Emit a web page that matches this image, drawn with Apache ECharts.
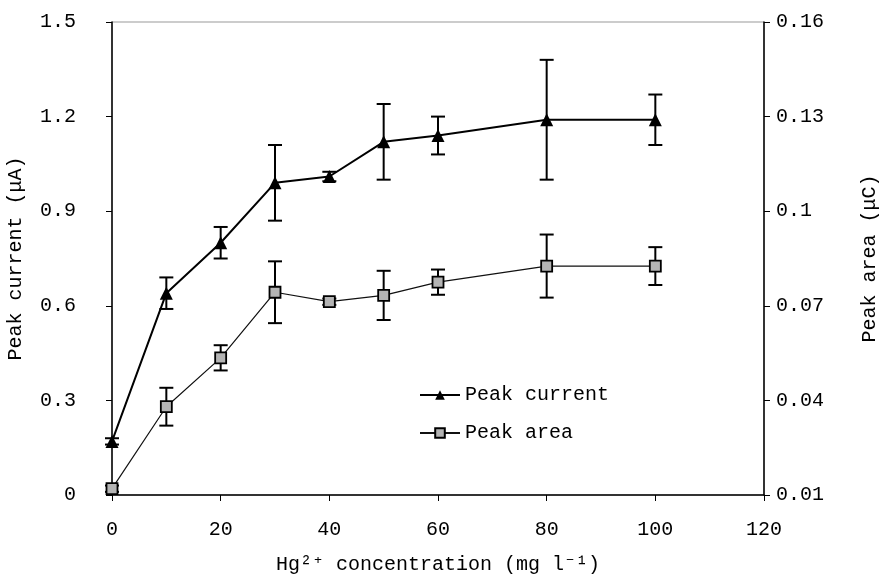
<!DOCTYPE html>
<html>
<head>
<meta charset="utf-8">
<script src="https://cdn.jsdelivr.net/npm/echarts@6/dist/echarts.min.js"></script>
<style>html,body{margin:0;padding:0;background:#fff}#c{width:881px;height:576px}</style>
</head>
<body>
<div id="c"></div>
<script>
const concentrations = [0, 10, 20, 30, 40, 50, 60, 80, 100];
const peakCurrent = [0.17, 0.64, 0.80, 0.99, 1.01, 1.12, 1.14, 1.19, 1.19];
const peakCurrentErr = [0.01, 0.05, 0.05, 0.12, 0.015, 0.12, 0.06, 0.19, 0.08];
const peakArea = [0.012, 0.038, 0.0535, 0.0743, 0.0713, 0.0733, 0.0775, 0.0826, 0.0826];
const peakAreaErr = [0.001, 0.006, 0.004, 0.0098, 0.001, 0.0078, 0.004, 0.010, 0.006];
const leftTicks = [0, 0.3, 0.6, 0.9, 1.2, 1.5];
const rightTicks = [0.01, 0.04, 0.07, 0.1, 0.13, 0.16];
const xTicks = [0, 20, 40, 60, 80, 100, 120];

const FONT = '"Liberation Mono", "Courier New", monospace';
const FS = 20;

const curPts = concentrations.map((x, i) => [x, peakCurrent[i]]);
const areaPts = concentrations.map((x, i) => [x, peakArea[i]]);
const curErr = concentrations.map((x, i) => [x, peakCurrent[i] - peakCurrentErr[i], peakCurrent[i] + peakCurrentErr[i]]);
const areaErr = concentrations.map((x, i) => [x, peakArea[i] - peakAreaErr[i], peakArea[i] + peakAreaErr[i]]);

function errRender(params, api) {
  const x = api.value(0), lo = api.value(1), hi = api.value(2);
  const a = api.coord([x, hi]);
  const b = api.coord([x, lo]);
  const w = 7;
  const st = { stroke: '#000', lineWidth: 2 };
  return {
    type: 'group',
    children: [
      { type: 'line', shape: { x1: a[0], y1: a[1], x2: b[0], y2: b[1] }, style: st },
      { type: 'line', shape: { x1: a[0] - w, y1: a[1], x2: a[0] + w, y2: a[1] }, style: st },
      { type: 'line', shape: { x1: b[0] - w, y1: b[1], x2: b[0] + w, y2: b[1] }, style: st }
    ]
  };
}

const chart = echarts.init(document.getElementById('c'), null, { renderer: 'canvas' });
const axisLabelStyle = { color: '#000', fontFamily: FONT, fontSize: FS };
chart.setOption({
  animation: false,
  backgroundColor: '#fff',
  textStyle: { fontFamily: FONT, color: '#000' },
  grid: {
    left: 112, right: 117, top: 22, bottom: 81,
    show: true, borderColor: '#999', borderWidth: 1,
    outerBoundsMode: 'none', containLabel: false
  },
  legend: {
    orient: 'vertical',
    left: 414, top: 380,
    itemWidth: 40, itemHeight: 12, itemGap: 18,
    data: ['Peak current', 'Peak area'],
    textStyle: { fontFamily: FONT, fontSize: FS, color: '#000' }
  },
  xAxis: {
    type: 'value', min: 0, max: 120, interval: 20,
    name: 'Hg²⁺ concentration (mg l⁻¹)',
    nameLocation: 'middle', nameGap: 60,
    nameTextStyle: { fontFamily: FONT, fontSize: FS, color: '#000' },
    axisLine: { show: true, lineStyle: { color: '#000', width: 1.5 } },
    axisTick: { show: true, inside: false, length: 6, lineStyle: { color: '#000' } },
    axisLabel: Object.assign({ margin: 25 }, axisLabelStyle),
    splitLine: { show: false }
  },
  yAxis: [
    {
      type: 'value', min: 0, max: 1.5, interval: 0.3, position: 'left',
      name: 'Peak current (μA)', nameLocation: 'middle', nameGap: 86, nameRotate: 90,
      nameTextStyle: { fontFamily: FONT, fontSize: FS, color: '#000' },
      axisLine: { show: true, lineStyle: { color: '#000', width: 1.5 } },
      axisTick: { show: true, length: 6, lineStyle: { color: '#000' } },
      axisLabel: Object.assign({ margin: 36, formatter: v => String(+v.toFixed(2)) }, axisLabelStyle),
      splitLine: { show: false }
    },
    {
      type: 'value', min: 0.01, max: 0.16, position: 'right',
      name: 'Peak area (μC)', nameLocation: 'middle', nameGap: 96, nameRotate: 90,
      nameTextStyle: { fontFamily: FONT, fontSize: FS, color: '#000' },
      axisLine: { show: true, onZero: false, lineStyle: { color: '#000', width: 1.5 } },
      axisTick: { show: true, length: 6, customValues: rightTicks, lineStyle: { color: '#000' } },
      axisLabel: Object.assign({ margin: 12, customValues: rightTicks, formatter: v => String(+v.toFixed(2)) }, axisLabelStyle),
      splitLine: { show: false }
    }
  ],
  series: [
    {
      type: 'custom', name: 'currentErr', yAxisIndex: 0, z: 3,
      renderItem: errRender, data: curErr, encode: { x: 0, y: [1, 2] }, silent: true
    },
    {
      type: 'custom', name: 'areaErr', yAxisIndex: 1, z: 3,
      renderItem: errRender, data: areaErr, encode: { x: 0, y: [1, 2] }, silent: true
    },
    {
      name: 'Peak current', type: 'line', yAxisIndex: 0, z: 5,
      data: curPts, symbol: 'triangle', symbolSize: 13, showAllSymbol: true,
      lineStyle: { color: '#000', width: 2 },
      itemStyle: { color: '#000', borderColor: '#000', borderWidth: 0 }
    },
    {
      name: 'Peak area', type: 'line', yAxisIndex: 1, z: 5,
      data: areaPts, symbol: 'rect', symbolSize: 11, showAllSymbol: true,
      lineStyle: { color: '#111', width: 1.2 },
      itemStyle: { color: '#b4b4b4', borderColor: '#000', borderWidth: 1.8 }
    }
  ]
});
</script>
</body>
</html>
